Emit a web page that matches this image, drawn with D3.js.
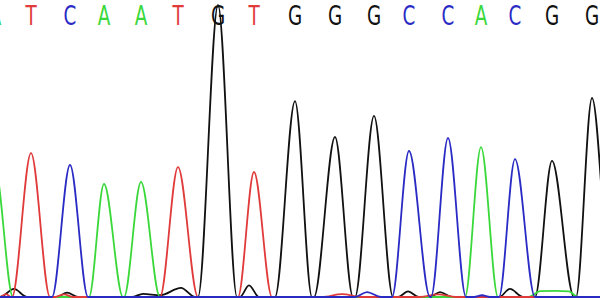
<!DOCTYPE html>
<html>
<head>
<meta charset="utf-8">
<script src="https://cdn.jsdelivr.net/npm/d3@7"></script>
<style>
  html, body { margin: 0; padding: 0; background: #fff; }
  svg { display: block; }
</style>
</head>
<body>
<div id="chart"></div>
<script>
// base calls and their peaks (scan position, signal height, peak feet)
const bases      = ["A", "T", "C", "A", "A", "T", "G", "T", "G", "G", "G", "C", "C", "A", "C", "G", "G"];
const peakPos    = [-5, 31, 70, 104, 141, 178, 218, 254, 295, 335, 374, 409, 448, 481, 515, 552, 592];
const peakHeight = [880, 985, 904, 774, 788, 890, 2000, 856, 1342, 1096, 1240, 1000, 1089, 1027, 945, 932, 1363];
const footLeft   = [-24, 12, 52, 89, 124, 160, 198, 238, 275, 314, 355, 392, 431, 465, 499, 535, 576];
const footRight  = [13, 50, 88, 123, 160, 198, 237, 272, 312, 353, 393, 430, 466, 498, 535, 574, 612];

// small baseline bumps between the called peaks, [scan, signal]
const noiseG = [[0, 0], [14, 55], [27, 0], [57, 0], [67, 30], [78, 0], [132, 0], [143, 22], [160, 12], [181, 62], [195, 0],
                [240, 0], [249, 80], [259, 0], [398, 0], [408, 38], [419, 0], [430, 0], [440, 34], [452, 0], [499, 0], [510, 55], [523, 0]];
const noiseC = [[355, 0], [367, 34], [381, 0], [474, 0], [482, 12], [490, 0]];
const noiseA = [[529, 0], [540, 40], [555, 42], [569, 38], [578, 0]];
const noiseT = [[0, 0], [6, 20], [11, 0], [55, 0], [64, 18], [73, 0], [322, 0], [342, 20], [362, 0], [420, 0], [438, 18], [456, 0]];

const channels = ["G", "A", "T", "C"];
const baseColor = { A: "#3ad83a", C: "#2a2ac4", G: "#111111", T: "#e03a3a" };
const noise = { A: noiseA, C: noiseC, G: noiseG, T: noiseT };

const width = 600, height = 300;

const x = d3.scaleLinear().domain([0, 600]).range([0, width]);
const y = d3.scaleLinear().domain([0, 2000]).range([297, 5]);

const svg = d3.select("#chart").append("svg")
  .attr("width", width)
  .attr("height", height);

svg.append("defs").append("clipPath").attr("id", "clip")
  .append("rect").attr("width", width).attr("height", height);

function tracePoints(ch) {
  let pts = [[-40, 0], [640, 0]];
  bases.forEach((b, i) => {
    if (b !== ch) return;
    pts.push([footLeft[i], 0], [peakPos[i], peakHeight[i]], [footRight[i], 0]);
  });
  pts = pts.concat(noise[ch]);
  pts.sort((a, b) => a[0] - b[0]);
  // drop duplicate scan positions
  return pts.filter((p, i) => i === 0 || p[0] !== pts[i - 1][0]);
}

const line = d3.line()
  .x(d => x(d[0]))
  .y(d => y(d[1]))
  .curve(d3.curveMonotoneX);

const gTraces = svg.append("g").attr("clip-path", "url(#clip)");

gTraces.selectAll("path")
  .data(channels)
  .join("path")
  .attr("d", ch => line(tracePoints(ch)))
  .attr("fill", "none")
  .attr("stroke", ch => baseColor[ch])
  .attr("stroke-width", 1.8)
  .attr("stroke-linejoin", "round");

// base call letters
svg.append("g")
  .selectAll("text")
  .data(bases.map((b, i) => ({ b, pos: peakPos[i] })))
  .join("text")
  .attr("transform", d => `translate(${x(d.pos)},25) scale(0.68,1)`)
  .attr("text-anchor", "middle")
  .attr("fill", d => baseColor[d.b])
  .style("font-family", "DejaVu Sans, sans-serif")
  .style("font-size", "27px")
  .text(d => d.b);
</script>
</body>
</html>
